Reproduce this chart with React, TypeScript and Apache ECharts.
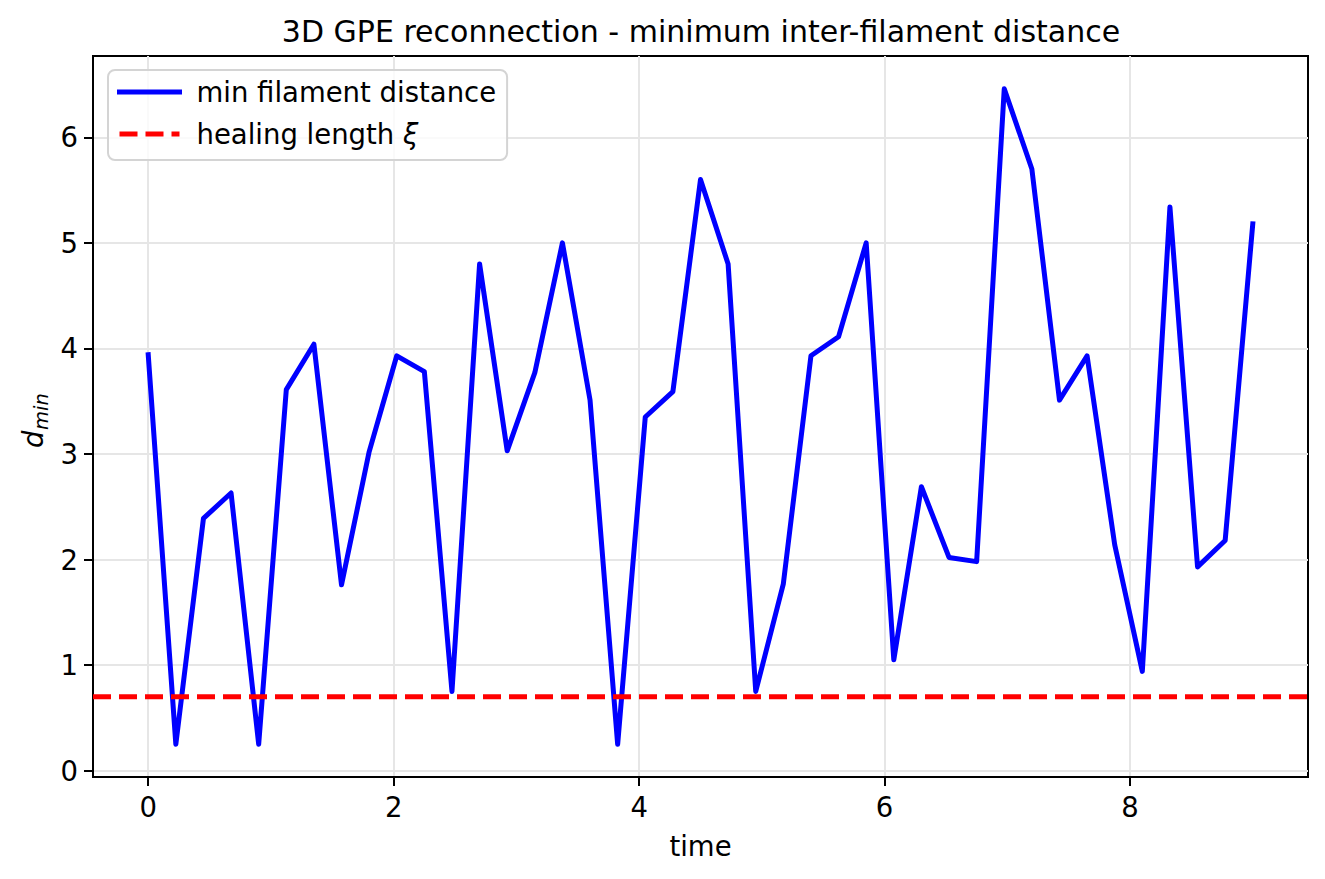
import React, { useEffect, useRef } from 'react';
import * as echarts from 'echarts';

const times = [
  0, 0.225, 0.45, 0.675, 0.9, 1.125, 1.35, 1.575, 1.8, 2.025, 2.25, 2.475, 2.7, 2.925,
  3.15, 3.375, 3.6, 3.825, 4.05, 4.275, 4.5, 4.725, 4.95, 5.175, 5.4, 5.625, 5.85,
  6.075, 6.3, 6.525, 6.75, 6.975, 7.2, 7.425, 7.65, 7.875, 8.1, 8.325, 8.55, 8.775, 9,
];
const dMin = [
  3.94, 0.25, 2.39, 2.63, 0.25, 3.61, 4.04, 1.76, 3.02, 3.93, 3.78, 0.75, 4.8, 3.03,
  3.77, 5.0, 3.51, 0.25, 3.35, 3.59, 5.6, 4.8, 0.75, 1.77, 3.93, 4.11, 5.0,
  1.05, 2.69, 2.02, 1.98, 6.46, 5.7, 3.51, 3.93, 2.14, 0.94, 5.34, 1.93, 2.18, 5.18,
];
const healingLength = 0.7;
const xTicks = [0, 2, 4, 6, 8];
const yTicks = [0, 1, 2, 3, 4, 5, 6];
const seriesNames = ['min filament distance', 'healing length ξ'];
const titleText = '3D GPE reconnection - minimum inter-filament distance';
const xLabel = 'time';

const FONT = 'DejaVu Sans';

export default function App() {
  const ref = useRef<HTMLDivElement>(null);
  useEffect(() => {
    if (!ref.current) return;
    const chart = echarts.init(ref.current, null, { renderer: 'svg' });
    const tMin = Math.min(...times);
    const tMax = Math.max(...times);
    const tPad = (tMax - tMin) * 0.05;
    const xMin = tMin - tPad;
    const xMax = tMax + tPad;
    const dLo = Math.min(...dMin);
    const dHi = Math.max(...dMin);
    const dPad = (dHi - dLo) * 0.05;
    const yMin = dLo - dPad;
    const yMax = dHi + dPad;

    chart.setOption({
      animation: false,
      backgroundColor: '#ffffff',
      textStyle: { fontFamily: FONT },
      grid: {
        left: 93,
        top: 56,
        width: 1215,
        height: 721,
        show: true,
        borderColor: '#000000',
        borderWidth: 2,
        backgroundColor: 'transparent',
      },
      legend: {
        data: seriesNames,
        orient: 'vertical',
        left: 108,
        top: 70,
        itemWidth: 60,
        itemHeight: 30,
        itemGap: 14,
        padding: [8, 11, 12, 9],
        backgroundColor: 'rgba(255,255,255,0.8)',
        borderColor: '#d4d4d4',
        borderWidth: 2,
        borderRadius: 7,
        itemStyle: { opacity: 0 },
        lineStyle: { width: 5 },
        formatter: (name: string) =>
          name === seriesNames[1] ? '{t|healing length }{i|ξ}' : '{t|' + name + '}',
        textStyle: {
          fontFamily: FONT,
          fontSize: 27.5,
          color: '#000',
          padding: [0, 0, 0, 12],
          rich: {
            t: { fontFamily: FONT, fontSize: 27.5, color: '#000' },
            i: { fontFamily: FONT, fontSize: 27.5, color: '#000', fontStyle: 'italic' },
          },
        },
      },
      xAxis: {
        type: 'value',
        min: xMin,
        max: xMax,
        axisLine: { show: true, onZero: false, lineStyle: { color: '#000', width: 2 } },
        axisTick: {
          show: true,
          customValues: xTicks,
          length: 9,
          lineStyle: { color: '#000', width: 2 },
        },
        axisLabel: {
          customValues: xTicks,
          fontFamily: FONT,
          fontSize: 27.5,
          color: '#000',
          margin: 16,
        },
        splitLine: { show: true, lineStyle: { color: '#e6e6e6', width: 2 } },
      },
      yAxis: {
        type: 'value',
        min: yMin,
        max: yMax,
        axisLine: { show: true, onZero: false, lineStyle: { color: '#000', width: 2 } },
        axisTick: {
          show: true,
          customValues: yTicks,
          length: 9,
          lineStyle: { color: '#000', width: 2 },
        },
        axisLabel: {
          customValues: yTicks,
          fontFamily: FONT,
          fontSize: 27.5,
          color: '#000',
          margin: 15,
        },
        splitLine: { show: true, lineStyle: { color: '#e6e6e6', width: 2 } },
      },
      series: [
        {
          name: seriesNames[0],
          type: 'line',
          data: times.map((t, i) => [t, dMin[i]]),
          symbol: 'none',
          showSymbol: false,
          lineStyle: { color: '#0000ff', width: 5, join: 'round', cap: 'square' },
          itemStyle: { color: '#0000ff' },
          z: 2,
        },
        {
          name: seriesNames[1],
          type: 'line',
          data: [
            [xMin, healingLength],
            [xMax, healingLength],
          ],
          symbol: 'none',
          showSymbol: false,
          lineStyle: { color: '#ff0000', width: 5, type: [18, 8] },
          itemStyle: { color: '#ff0000' },
          z: 3,
        },
      ],
      graphic: [
        {
          type: 'text',
          x: 701,
          y: 31,
          style: {
            text: titleText,
            fontFamily: FONT,
            fontSize: 30,
            fill: '#000',
            textAlign: 'center',
            textVerticalAlign: 'middle',
          },
        },
        {
          type: 'text',
          x: 700.5,
          y: 846,
          style: {
            text: xLabel,
            fontFamily: FONT,
            fontSize: 27.5,
            fill: '#000',
            textAlign: 'center',
            textVerticalAlign: 'middle',
          },
        },
        {
          type: 'group',
          x: 36,
          y: 421,
          rotation: Math.PI / 2,
          children: [
            {
              type: 'text',
              x: -27,
              y: -3,
              style: {
                text: 'd',
                fontFamily: FONT,
                fontStyle: 'italic',
                fontSize: 27.5,
                fill: '#000',
                textAlign: 'left',
                textVerticalAlign: 'middle',
              },
            },
            {
              type: 'text',
              x: -9,
              y: 5,
              style: {
                text: 'min',
                fontFamily: FONT,
                fontStyle: 'italic',
                fontSize: 19.5,
                fill: '#000',
                textAlign: 'left',
                textVerticalAlign: 'middle',
              },
            },
          ],
        },
      ],
    });
    return () => chart.dispose();
  }, []);
  return (
    <div
      ref={ref}
      style={{ position: 'fixed', left: 0, top: 0, width: 1325, height: 879, background: '#fff' }}
    />
  );
}
